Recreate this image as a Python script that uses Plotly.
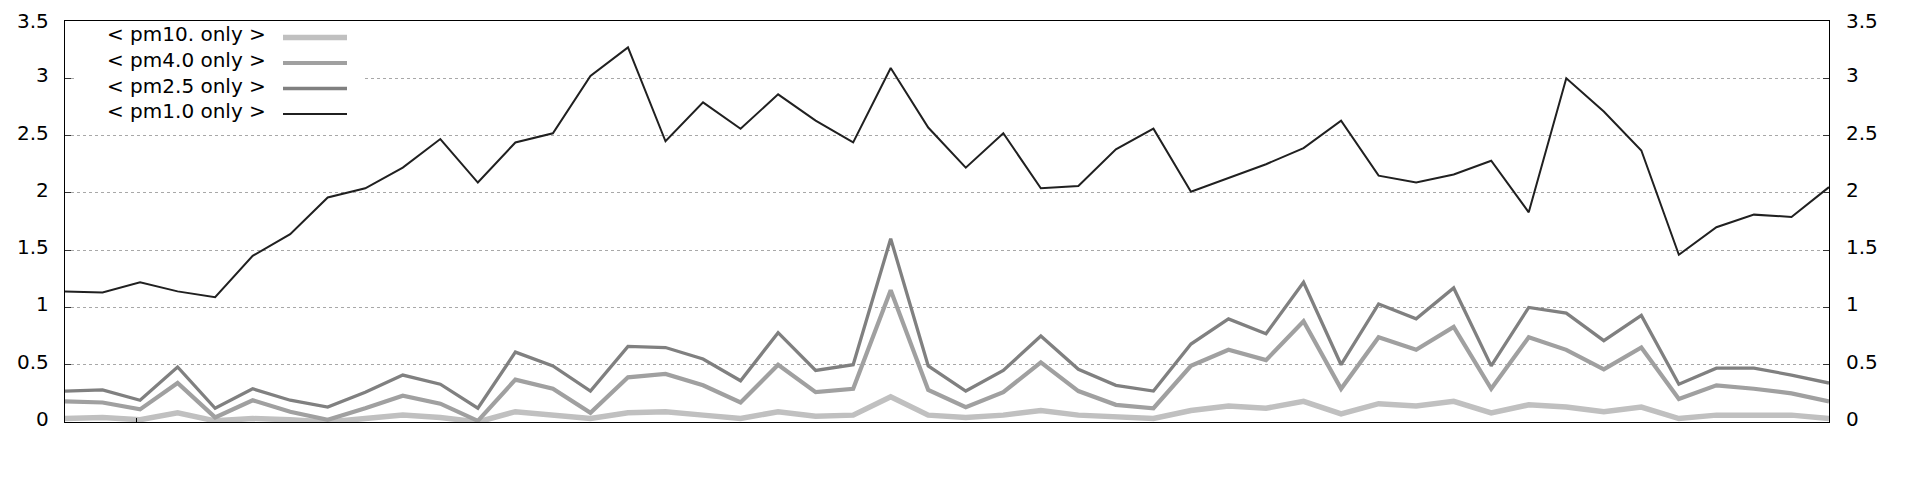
import plotly.graph_objects as go

# ---------------- data ----------------
idx = list(range(48))

pm1_0 = [1.14, 1.13, 1.22, 1.14, 1.09, 1.45, 1.64, 1.96, 2.04, 2.22, 2.47, 2.09, 2.44, 2.52, 3.02, 3.27,
         2.45, 2.79, 2.56, 2.86, 2.63, 2.44, 3.09, 2.57, 2.22, 2.52, 2.04, 2.06, 2.38, 2.56, 2.01, 2.13,
         2.25, 2.39, 2.63, 2.15, 2.09, 2.16, 2.28, 1.83, 3.00, 2.71, 2.37, 1.46, 1.70, 1.81, 1.79, 2.05]
pm2_5 = [0.27, 0.28, 0.19, 0.48, 0.12, 0.29, 0.19, 0.13, 0.26, 0.41, 0.33, 0.12, 0.61, 0.49, 0.27, 0.66,
         0.65, 0.55, 0.36, 0.78, 0.45, 0.50, 1.60, 0.49, 0.27, 0.45, 0.75, 0.46, 0.32, 0.27, 0.68, 0.90,
         0.77, 1.22, 0.50, 1.03, 0.90, 1.17, 0.49, 1.00, 0.95, 0.71, 0.93, 0.33, 0.47, 0.47, 0.41, 0.34]
pm4_0 = [0.18, 0.17, 0.11, 0.34, 0.04, 0.19, 0.09, 0.02, 0.12, 0.23, 0.16, 0.01, 0.37, 0.29, 0.08, 0.39,
         0.42, 0.32, 0.17, 0.50, 0.26, 0.29, 1.15, 0.28, 0.13, 0.26, 0.52, 0.27, 0.15, 0.12, 0.49, 0.63,
         0.54, 0.88, 0.29, 0.74, 0.63, 0.83, 0.29, 0.74, 0.63, 0.46, 0.65, 0.20, 0.32, 0.29, 0.25, 0.18]
pm10 = [0.03, 0.04, 0.02, 0.08, 0.01, 0.03, 0.02, 0.00, 0.03, 0.06, 0.04, 0.00, 0.09, 0.06, 0.03, 0.08,
        0.09, 0.06, 0.03, 0.09, 0.05, 0.06, 0.22, 0.06, 0.04, 0.06, 0.10, 0.06, 0.04, 0.03, 0.10, 0.14,
        0.12, 0.18, 0.07, 0.16, 0.14, 0.18, 0.08, 0.15, 0.13, 0.09, 0.13, 0.03, 0.06, 0.06, 0.06, 0.03]

labels = ["< pm10. only >", "< pm4.0 only >", "< pm2.5 only >", "< pm1.0 only >"]
y_ticks = [0, 0.5, 1, 1.5, 2, 2.5, 3, 3.5]
y_tick_text = ["0", "0.5", "1", "1.5", "2", "2.5", "3", "3.5"]

# ---------------- styles ----------------
series = [
    (labels[0], pm10, "#c0c0c0", 5.5),
    (labels[1], pm4_0, "#a0a0a0", 4.2),
    (labels[2], pm2_5, "#808080", 3.3),
    (labels[3], pm1_0, "#202020", 2.0),
]

# page has an 8px body margin; figure sized to fit inside the window
OFF = 8
W, H = 1904, 464
PLOT_L, PLOT_R, PLOT_T, PLOT_B = 65, 1829, 21, 422   # page pixels
ML, MT = PLOT_L - OFF, PLOT_T - OFF
MR, MB = W - (PLOT_R - OFF), H - (PLOT_B - OFF)
PW, PH = PLOT_R - PLOT_L, PLOT_B - PLOT_T
FONT = "DejaVu Sans, Liberation Sans, sans-serif"
FS = 20


def px_x(p):
    return (p - PLOT_L) / PW


def px_y(p):
    return (PLOT_B - p) / PH


fig = go.Figure()
for name, vals, col, w in series:
    fig.add_trace(go.Scatter(
        x=idx, y=vals, mode="lines", name=name,
        line=dict(color=col, width=w),
        cliponaxis=False, showlegend=False,
    ))

shapes = []
annotations = []
# legend box (white background)
shapes.append(dict(type="rect", xref="paper", yref="paper",
                   x0=px_x(75), x1=px_x(362), y0=px_y(124), y1=px_y(22),
                   fillcolor="white", line=dict(width=0), layer="above"))
leg_y = [37.5, 63, 88.5, 114]
for (name, vals, col, w), yy in zip(series, leg_y):
    shapes.append(dict(type="line", xref="paper", yref="paper",
                       x0=px_x(283), x1=px_x(347), y0=px_y(yy), y1=px_y(yy),
                       line=dict(color=col, width=w), layer="above"))
    annotations.append(dict(xref="paper", yref="paper", x=px_x(268), y=px_y(yy - 3),
                            text=name, showarrow=False, xanchor="right", yanchor="middle",
                            font=dict(family=FONT, size=FS, color="black")))

# y tick labels on both sides (sitting slightly above their gridline, as in the original)
for v, t in zip(y_ticks, y_tick_text):
    shift = 0 if v == y_ticks[-1] else 3
    for xp, anchor in ((px_x(51), "right"), (px_x(1844), "left")):
        annotations.append(dict(xref="paper", yref="y", x=xp, y=v, text=t, showarrow=False,
                                xanchor=anchor, yanchor="middle", yshift=shift,
                                font=dict(family=FONT, size=FS, color="black")))

fig.update_layout(
    width=W, height=H,
    margin=dict(l=ML, r=MR, t=MT, b=MB, autoexpand=False),
    paper_bgcolor="white", plot_bgcolor="white",
    showlegend=False,
    xaxis=dict(range=[0, 47], tickvals=[1.9], ticktext=[""], ticks="inside", ticklen=4,
               tickcolor="black", showgrid=False, zeroline=False, automargin=False,
               showline=True, linecolor="black", linewidth=1, mirror=True, fixedrange=True),
    yaxis=dict(range=[0, 3.5], tickvals=y_ticks, showticklabels=False,
               ticks="inside", ticklen=6, tickcolor="#333", tickwidth=1,
               showgrid=True, gridcolor="#a8a8a8", griddash="3px,3px", gridwidth=1,
               zeroline=False, automargin=False, fixedrange=True,
               showline=True, linecolor="black", linewidth=1, mirror="ticks"),
    shapes=shapes,
    annotations=annotations,
)

fig.write_html("out.html")
